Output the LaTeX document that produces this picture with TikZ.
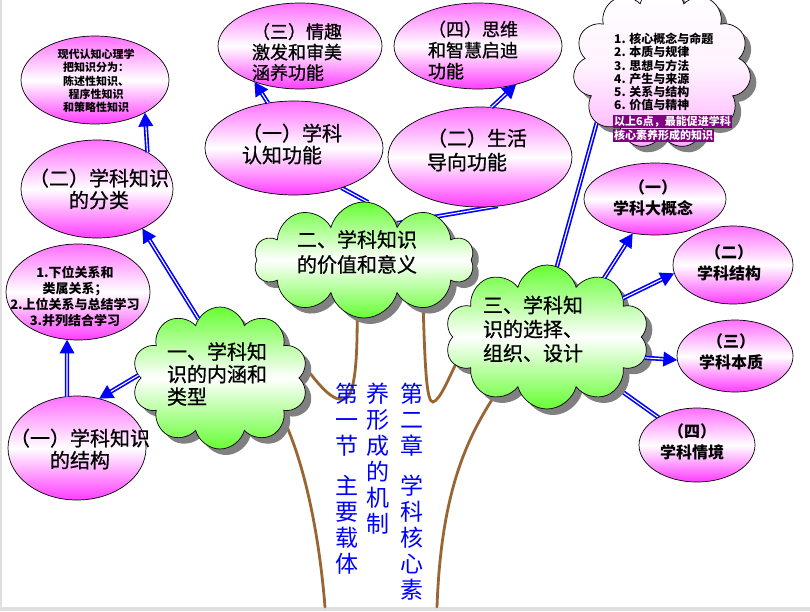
\documentclass[tikz,border=0pt]{standalone}
\usepackage{fontspec}
\newfontfamily\cjk{Noto Sans CJK SC}
\newfontfamily\cjkh{Noto Sans CJK SC}[FakeBold=0.8]
\usetikzlibrary{shapes.geometric,shapes.symbols,shadows,arrows.meta,backgrounds}
\definecolor{pinkT}{RGB}{255,110,255}
\definecolor{pinkB}{RGB}{255,60,255}
\definecolor{pinkL}{RGB}{255,170,255}
\definecolor{greenC}{RGB}{102,255,51}
\definecolor{trunkc}{RGB}{153,102,51}
\definecolor{hlpurple}{RGB}{128,0,128}
\definecolor{blueA}{RGB}{0,0,255}
\newcommand\hlbox[1]{{\setlength{\fboxsep}{1pt}\colorbox{hlpurple}{\textcolor{white}{#1}}}}
\newcommand\fs[2]{\fontsize{#1}{#2}\selectfont}
\begin{document}
\begin{tikzpicture}[x=1pt,y=-1pt,
  pell/.style={ellipse, draw=black, line width=0.7pt, top color=pinkT, bottom color=pinkB, middle color=white, inner sep=0pt, outer sep=0pt},
  gcl/.style={cloud, cloud puffs=10, cloud ignores aspect, draw=black, line width=0.7pt, top color=greenC, bottom color=greenC, middle color=white, inner sep=0pt, outer sep=0pt, drop shadow={shadow xshift=6pt, shadow yshift=-6pt, fill=black!50, opacity=1}},
  pcl/.style={cloud, cloud puffs=11, cloud ignores aspect, draw=black, line width=0.7pt, top color=white, bottom color=pinkL, middle color=white!85!pinkL, inner sep=0pt, outer sep=0pt, drop shadow={shadow xshift=6pt, shadow yshift=-6pt, fill=black!50, opacity=1}},
  lbl/.style={inner sep=0pt, text=black},
  vtxt/.style={anchor=north, align=center, inner sep=0pt, font=\cjk\fs{23}{26}, text=blueA},
  ab/.style={draw=blueA, line width=4.4pt, -{Triangle[length=14pt,width=14pt]}},
  ac/.style={draw=white, line width=1.1pt, shorten >=14pt},
  lb/.style={draw=blueA, line width=4.4pt},
  lc/.style={draw=white, line width=1.1pt},
  trunk/.style={draw=trunkc, line width=2.8pt, line cap=round}]
\useasboundingbox (0,0) rectangle (810,611);

% ---------- ellipses ----------
\node[pell, minimum width=148pt, minimum height=88pt] (etl) at (95,80) {};
\node[lbl, align=center, font=\cjk\bfseries\fs{11}{13.3}] (etlt) at (96,81) {现代认知心理学\\把知识分为：\\陈述性知识、\\程序性知识\\和策略性知识};

\node[pell, minimum width=152pt, minimum height=98pt] (eclass) at (97,189) {};
\node[lbl, align=center, font=\cjkh\fs{20}{22}] (eclasst) at (99,189) {（二）学科知识\\的分类};

\node[pell, minimum width=144pt, minimum height=96pt] (erel) at (78,292) {};
\node[lbl, align=center, font=\cjk\bfseries\fs{13}{16}] (erelt) at (75,296) {1.下位关系和\\类属关系；\\2.上位关系与总结学习\\3.并列结合学习};

\node[pell, minimum width=138pt, minimum height=104pt] (estruct) at (77,448) {};
\node[lbl, align=center, font=\cjkh\fs{20}{22}] (estructt) at (80,449) {（一）学科知识\\的结构};

\node[pell, minimum width=164pt, minimum height=86pt] (eemo) at (300,46) {};
\node[lbl, align=left, font=\cjkh\fs{18}{20.5}] (eemot) at (297,52) {（三）情趣\\激发和审美\\涵养功能};

\node[pell, minimum width=168pt, minimum height=86pt] (ethink) at (478,46) {};
\node[lbl, align=left, font=\cjkh\fs{18}{21}] (ethinkt) at (473,50) {（四）思维\\和智慧启迪\\功能};

\node[pell, minimum width=178pt, minimum height=94pt] (ecog) at (294,148) {};
\node[lbl, align=left, font=\cjkh\fs{20}{22}] (ecogt) at (292,144) {（一）学科\\认知功能};

\node[pell, minimum width=184pt, minimum height=100pt] (elife) at (480,157) {};
\node[lbl, align=left, font=\cjkh\fs{20}{24}] (elifet) at (477,150) {（二）生活\\导向功能};

\node[pell, minimum width=142pt, minimum height=72pt] (r1) at (655,199) {};
\node[lbl, align=center, font=\cjk\bfseries\fs{16}{21}] (r1t) at (653,198) {（一）\\学科大概念};
\node[pell, minimum width=120pt, minimum height=78pt] (r2) at (733,265) {};
\node[lbl, align=center, font=\cjk\bfseries\fs{16}{21}] (r2t) at (729,263) {（二）\\学科结构};
\node[pell, minimum width=116pt, minimum height=72pt] (r3) at (735,356) {};
\node[lbl, align=center, font=\cjk\bfseries\fs{16}{21}] (r3t) at (731,352) {（三）\\学科本质};
\node[pell, minimum width=116pt, minimum height=74pt] (r4) at (697,445) {};
\node[lbl, align=center, font=\cjk\bfseries\fs{16}{21}] (r4t) at (692,442) {（四）\\学科情境};

% ---------- clouds ----------
\node[gcl, minimum width=176pt, minimum height=142pt] (c1) at (220,378) {};
\node[lbl, align=left, font=\cjkh\fs{20}{22.5}] (c1t) at (217,374) {一、学科知\\识的内涵和\\类型};

\node[gcl, minimum width=220pt, minimum height=116pt] (c2) at (364,260) {};
\node[lbl, align=left, font=\cjkh\fs{20}{25}] (c2t) at (357,252) {二、学科知识\\的价值和意义};

\node[gcl, minimum width=204pt, minimum height=144pt] (c3) at (547,337) {};
\node[lbl, align=left, font=\cjkh\fs{20}{24}] (c3t) at (533,329) {三、学科知\\识的选择、\\组织、设计};

\node[pcl, minimum width=178pt, minimum height=162pt] (tr) at (662,68) {};
\node[lbl, anchor=north west, align=left, font=\cjk\bfseries\fs{12}{13.2}] (trt) at (614,33) {1. 核心概念与命题\\2. 本质与规律\\3. 思想与方法\\4. 产生与来源\\5. 关系与结构\\6. 价值与精神};
\node[lbl, anchor=north west, align=left, font=\cjk\bfseries\fs{11}{14}] (trp) at (613,115) {\hlbox{以上6点，最能促进学科}\\\hlbox{核心素养形成的知识}};

% ---------- vertical title ----------
\node[vtxt] (v1) at (412,383) {第\\二\\章\\[14pt]学\\科\\核\\心\\素};
\node[vtxt] (v2) at (378,383) {养\\形\\成\\的\\机\\制};
\node[vtxt] (v3) at (347,383) {第\\一\\节\\[14pt]主\\要\\载\\体};

% ---------- visible arrows ----------
\draw[ab] (c1.110) -- (eclass.-41); \draw[ac] (c1.110) -- (eclass.-41);
\draw[ab] (c1.178) -- (estruct.66); \draw[ac] (c1.178) -- (estruct.66);
\draw[ab] (estruct.101) -- (erel.-103); \draw[ac] (estruct.101) -- (erel.-103);
\draw[ab] (eclass.36) -- (etl.-33); \draw[ac] (eclass.36) -- (etl.-33);
\draw[ab] (ecog.120) -- (eemo.-142); \draw[ac] (ecog.120) -- (eemo.-142);
\draw[ab] (elife.77) -- (ethink.-45); \draw[ac] (elife.77) -- (ethink.-45);
\draw[ab] (c3.46) -- (r1.-123); \draw[ac] (c3.46) -- (r1.-123);
\draw[ab] (c3.27) -- (r2.-172); \draw[ac] (c3.27) -- (r2.-172);
\draw[ab] (c3.-12) -- (r3.-176); \draw[ac] (c3.-12) -- (r3.-176);

% ---------- background: page, trunk, hidden connectors ----------
\begin{pgfonlayer}{background}
\fill[white] (0,0) rectangle (810,611);
\fill[gray!25] (0,607) rectangle (810,611);
\fill[gray!25] (0,0) rectangle (2,611);
\draw[trunk] (280,412) .. controls (300,450) and (318,520) .. (325,607);
\draw[trunk] (300,360) .. controls (322,390) and (334,402) .. (345,399) .. controls (355,395) and (358,360) .. (357,300);
\draw[trunk] (423,300) .. controls (425,375) and (427,402) .. (433,402) .. controls (440,400) and (448,380) .. (460,355);
\draw[trunk] (497,392) .. controls (465,440) and (441,495) .. (437,607);
\draw[lb] (c2.86) -- (ecog.-40); \draw[lc] (c2.86) -- (ecog.-40);
\draw[lb] (c2.49) -- (elife.-70); \draw[lc] (c2.49) -- (elife.-70);
\draw[lb] (c3.82) -- (tr.-140); \draw[lc] (c3.82) -- (tr.-140);
\draw[lb] (c3.-36) -- (r4.center); \draw[lc] (c3.-36) -- (r4.center);
\end{pgfonlayer}
\end{tikzpicture}
\end{document}
